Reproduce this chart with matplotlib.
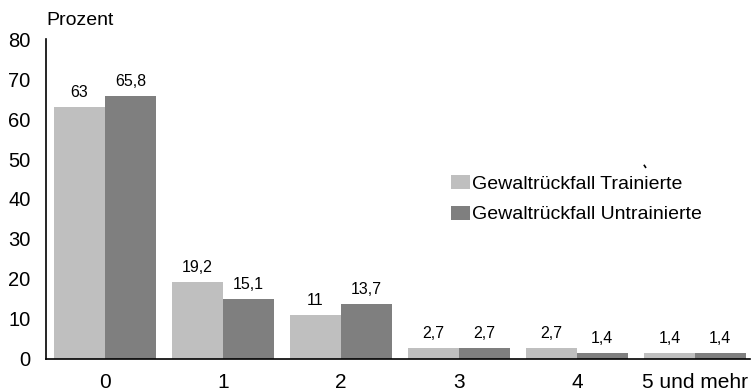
import numpy as np
import matplotlib.pyplot as plt

# Anzahl Gewaltrückfälle, Anteil in Prozent
kategorien = ['0', '1', '2', '3', '4', '5 und mehr']
trainierte = [63, 19.2, 11, 2.7, 2.7, 1.4]
untrainierte = [65.8, 15.1, 13.7, 2.7, 1.4, 1.4]
serien_namen = ['Gewaltrückfall Trainierte', 'Gewaltrückfall Untrainierte']

plt.rcParams['font.family'] = ['Liberation Sans', 'DejaVu Sans']

fig = plt.figure(figsize=(7.54, 3.92), dpi=100)
ax = fig.add_axes([0.061, 0.0842, 0.934, 0.8163])

x = np.arange(len(kategorien))
breite = 0.43
b1 = ax.bar(x - breite / 2, trainierte, breite, color='#bfbfbf', label=serien_namen[0])
b2 = ax.bar(x + breite / 2, untrainierte, breite, color='#7f7f7f', label=serien_namen[1])

def fmt(v):
    return ('%g' % v).replace('.', ',')

for bars, werte in ((b1, trainierte), (b2, untrainierte)):
    ax.bar_label(bars, labels=[fmt(v) for v in werte], padding=5, fontsize=11.5)

ax.set_xlim(-0.5, 5.47)
ax.set_ylim(0, 80)
ax.set_yticks(range(0, 81, 10))
ax.set_xticks(x)
ax.set_xticklabels(kategorien, fontsize=15)
ax.tick_params(axis='y', labelsize=14.5, length=0, pad=11)
ax.tick_params(axis='x', length=0, pad=10)

for s in ('top', 'right'):
    ax.spines[s].set_visible(False)
ax.spines['left'].set_linewidth(1.2)
ax.spines['bottom'].set_linewidth(1.2)

ax.text(0.0, 1.03, 'Prozent', transform=ax.transAxes, fontsize=14, ha='left', va='bottom')
# kleiner Strich über der Legende
ax.plot([0.849, 0.852], [0.607, 0.597], transform=ax.transAxes, color='black',
        lw=1.2, solid_capstyle='butt', clip_on=False)

ax.legend(loc='upper left', bbox_to_anchor=(0.5635, 0.6), frameon=False, fontsize=14,
          handlelength=1.0, handleheight=0.75, handletextpad=0.1, labelspacing=0.66,
          borderaxespad=0)

fig.savefig('out.png', dpi=100)
